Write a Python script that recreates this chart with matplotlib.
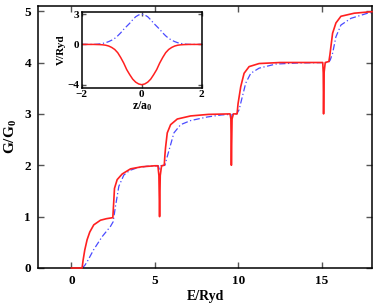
import matplotlib
matplotlib.use("Agg")
import matplotlib.pyplot as plt

plt.rcParams['font.family'] = 'Liberation Serif'
plt.rcParams['font.weight'] = 'bold'
plt.rcParams['mathtext.fontset'] = 'custom'
plt.rcParams['mathtext.bf'] = 'Liberation Serif:bold'
plt.rcParams['mathtext.rm'] = 'Liberation Serif:bold'

# conductance
E_red = [0.0, 0.64, 0.7, 0.8, 0.94, 1.1, 1.34, 1.74, 2.1, 2.48, 2.52, 2.58, 2.74, 3.04,
         3.54, 4.2, 5.0, 5.18, 5.24, 5.28, 5.32, 5.4, 5.56, 5.6, 5.64, 5.74, 5.94, 6.34,
         7.14, 8.2, 9.5, 9.55, 9.58, 9.62, 9.7, 9.92, 9.98, 10.14, 10.34, 10.64, 11.24,
         12.5, 15.05, 15.08, 15.1, 15.13, 15.2, 15.42, 15.48, 15.54, 15.64, 15.84, 16.14,
         16.94, 18.0]
G_red = [0.0, 0.0, 0.15, 0.35, 0.55, 0.7, 0.84, 0.93, 0.96, 0.98, 1.2, 1.55, 1.72, 1.83,
         1.93, 1.97, 1.99, 1.99, 1.8, 1.0, 1.8, 1.99, 2.0, 2.2, 2.35, 2.63, 2.79, 2.9,
         2.96, 2.99, 3.0, 2.9, 2.0, 2.9, 3.0, 3.0, 3.2, 3.53, 3.79, 3.92, 3.98,
         4.0, 4.0, 3.8, 3.0, 3.8, 4.0, 4.02, 4.15, 4.31, 4.57, 4.77, 4.9,
         4.96, 4.99]

E_blue = [0.64, 0.8, 0.94, 1.34, 1.84, 2.34, 2.5, 2.64, 2.84, 3.14, 3.5, 3.94, 4.5, 5.2,
          5.28, 5.36, 5.6, 5.74, 5.94, 6.14, 6.54, 7.14, 8.14, 9.0, 9.55, 9.6, 9.65, 9.9,
          10.04, 10.24, 10.44, 10.74, 11.24, 12.24, 13.5, 15.4, 15.5, 15.64, 15.84, 16.14,
          16.74, 17.74, 18.0]
G_blue = [0.0, 0.05, 0.12, 0.36, 0.61, 0.81, 0.9, 1.2, 1.59, 1.81, 1.9, 1.95, 1.98, 1.99,
          1.9, 1.99, 2.0, 2.17, 2.4, 2.63, 2.79, 2.87, 2.94, 2.98, 2.99, 2.9, 2.99, 3.0,
          3.08, 3.34, 3.6, 3.79, 3.89, 3.97, 3.99, 4.0, 4.05, 4.18, 4.5, 4.73,
          4.86, 4.96, 4.97]

# inset potentials
z = [-2.0, -1.9, -1.8, -1.7, -1.6, -1.5, -1.4, -1.3, -1.2, -1.1, -1.0, -0.9, -0.8, -0.7,
     -0.6, -0.5, -0.4, -0.3, -0.2, -0.1, 0.0, 0.1, 0.2, 0.3, 0.4, 0.5, 0.6, 0.7, 0.8, 0.9,
     1.0, 1.1, 1.2, 1.3, 1.4, 1.5, 1.6, 1.7, 1.8, 1.9, 2.0]
V_red = [0, 0, 0, 0, 0, -0.01, -0.02, -0.04, -0.08, -0.16, -0.3, -0.5, -0.82, -1.3,
         -1.85, -2.5, -3.0, -3.45, -3.75, -3.93, -4.0, -3.93, -3.75, -3.45, -3.0, -2.5,
         -1.85, -1.3, -0.82, -0.5, -0.3, -0.16, -0.08, -0.04, -0.02, -0.01, 0, 0, 0, 0, 0]
V_blue = [0, 0, 0, 0, 0, 0.02, 0.05, 0.1, 0.17, 0.28, 0.42, 0.6, 0.85, 1.15,
          1.5, 1.8, 2.1, 2.45, 2.75, 2.93, 3.0, 2.93, 2.75, 2.45, 2.1, 1.8,
          1.5, 1.15, 0.85, 0.6, 0.42, 0.28, 0.17, 0.1, 0.05, 0.02, 0, 0, 0, 0, 0]

red = '#ff2020'
blue = '#4a4aff'

fig = plt.figure(figsize=(3.74, 3.03), dpi=100)
ax = fig.add_axes([38 / 374, 1 - 268 / 303, 334 / 374, 262 / 303])
ax.plot(E_blue, G_blue, color=blue, lw=0.9, dashes=[5, 2, 1, 2])
ax.plot(E_red, G_red, color=red, lw=1.2, clip_on=False, zorder=5)
ax.set_xlim(-2, 18)
ax.set_ylim(0, 5.1)
ax.set_xticks([0, 5, 10, 15])
ax.set_yticks([0, 1, 2, 3, 4, 5])
ax.tick_params(direction='in', top=True, right=True, length=4, width=1,
               color='#555555', labelsize=9.5, pad=5)
for s in ax.spines.values():
    s.set_linewidth(1.1)
ax.set_xlabel('E/Ryd', fontsize=10, fontweight='bold', labelpad=2)
ax.set_ylabel(r'$\mathbf{G/G_0}$', fontsize=11, labelpad=4)

# inset
ins = fig.add_axes([81.7 / 374, 1 - 87.7 / 303, 120 / 374, 76 / 303])
ins.plot(z, V_blue, color=blue, lw=0.9, dashes=[5, 2, 1, 2])
ins.plot(z, V_red, color=red, lw=1.1)
ins.set_xlim(-2, 2)
ins.set_ylim(-4.3, 3.25)
ins.set_xticks([-2, 0, 2])
ins.set_yticks([-4, 0, 3])
ins.set_yticklabels(['\u22124', '0', '3'])
ins.set_xticklabels(['\u22122', '0', '2'])
ins.tick_params(direction='in', top=True, right=True, length=3, width=1,
                color='#555555', labelsize=8, pad=2)
for s in ins.spines.values():
    s.set_linewidth(1.1)
ins.set_xlabel(r'$\mathbf{z/a_0}$', fontsize=8.5, labelpad=0)
ins.set_ylabel('V/Ryd', fontsize=8, fontweight='bold', labelpad=1)

fig.savefig('out.png', dpi=100)
